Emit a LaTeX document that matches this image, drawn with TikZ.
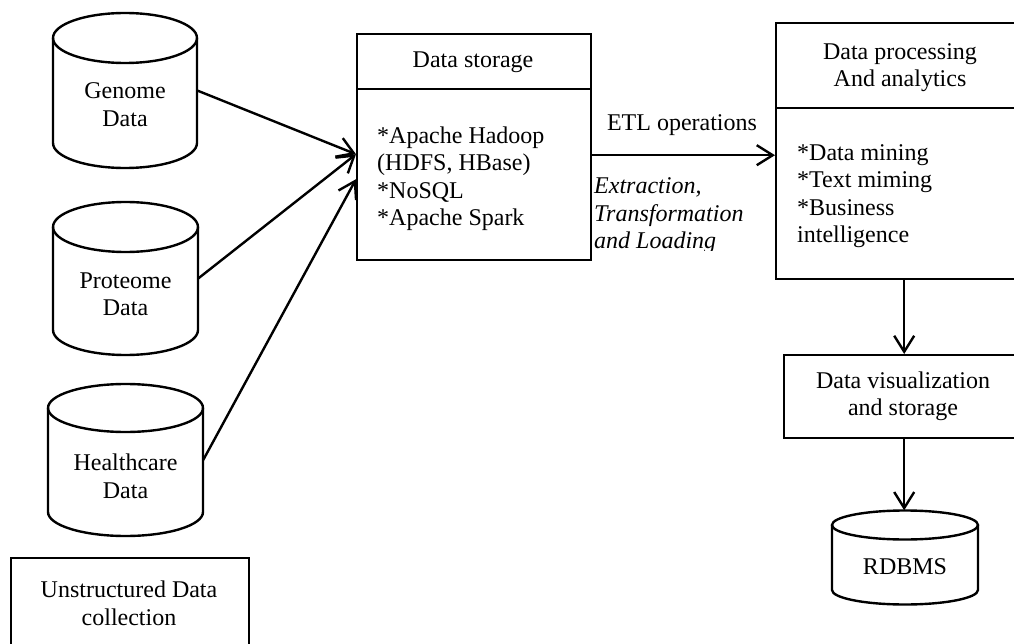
\documentclass[tikz,border=0pt]{standalone}
\usepackage{fontspec}
\setmainfont{Liberation Serif}
\usetikzlibrary{arrows.meta,calc}
\begin{document}
\begin{tikzpicture}[x=1pt,y=-1pt,
  ln/.style={line width=2.4pt, draw=black},
  arr/.style={ln, -{Straight Barb[length=16pt,width=20pt]}},
  txt/.style={font=\fontsize{24}{27.5}\selectfont, inner sep=0pt, align=center},
  boxst/.style={ln, rectangle, inner sep=0pt, anchor=north west},
  cylnode/.style={draw=none, rectangle, inner sep=0pt}
]
\useasboundingbox (0,0) rectangle (1014,644);

% ---- cylinders (left) ----
\node[cylnode, minimum width=144, minimum height=155] (genome) at (125,90.5) {};
\draw[ln] (125,38) ellipse [x radius=72, y radius=25];
\draw[ln] (53,38) -- (53,143) arc[start angle=180, end angle=0, x radius=72, y radius=25] -- (197,38);
\node[txt] (genomelbl) at (125,104.5) {Genome\\Data};

\node[cylnode, minimum width=145, minimum height=153] (proteome) at (125.5,278.5) {};
\draw[ln] (125.5,227) ellipse [x radius=72.5, y radius=25];
\draw[ln] (53,227) -- (53,330) arc[start angle=180, end angle=0, x radius=72.5, y radius=25] -- (198,227);
\node[txt] (proteomelbl) at (125.5,294.5) {Proteome\\Data};

\node[cylnode, minimum width=155, minimum height=152] (health) at (125.5,460) {};
\draw[ln] (125.5,408) ellipse [x radius=77.5, y radius=24];
\draw[ln] (48,408) -- (48,512) arc[start angle=180, end angle=0, x radius=77.5, y radius=24] -- (203,408);
\node[txt] (healthlbl) at (125.5,476.5) {Healthcare\\Data};

% ---- unstructured box ----
\node[boxst, minimum width=238, minimum height=95] (unstr) at (10,557) {};
\node[txt] (unstrlbl) at (129,603.5) {Unstructured Data\\collection};

% ---- data storage ----
\node[boxst, minimum width=234, minimum height=226] (storage) at (356,33) {};
\draw[ln] (storage.west |- 0,89) -- (storage.east |- 0,89);
\node[txt] (stitle) at (473,62) {Data storage};
\node[txt, align=left, anchor=west] (sbody) at (377,178.5) {*Apache Hadoop\\(HDFS, HBase)\\*NoSQL\\*Apache Spark};

% ---- data processing ----
\node[boxst, minimum width=250, minimum height=256] (proc) at (775,22) {};
\draw[ln] (proc.west |- 0,108) -- (proc.east |- 0,108);
\node[txt] (ptitle) at (900,67.5) {Data processing\\And analytics};
\node[txt, align=left, anchor=west] (pbody) at (797,196) {*Data mining\\*Text miming\\*Business\\intelligence};

% ---- data visualization ----
\node[boxst, minimum width=240, minimum height=83] (vis) at (783,354) {};
\node[txt] (vislbl) at (903,396.5) {Data visualization\\and storage};

% ---- RDBMS ----
\node[cylnode, minimum width=146, minimum height=94] (rdbms) at (905,557.5) {};
\draw[ln] (905,525) ellipse [x radius=73, y radius=14.5];
\draw[ln] (832,525) -- (832,590) arc[start angle=180, end angle=0, x radius=73, y radius=14.5] -- (978,525);
\node[txt] (rdbmslbl) at (905,567) {RDBMS};

% ---- ETL labels ----
\node[txt] (etl) at (682,125) {ETL operations};
\begin{scope}
\clip (590,150) rectangle (775,251);
\node[txt, align=left, anchor=west, font=\fontsize{24}{27.5}\selectfont\itshape] (etlsub) at (594,216) {Extraction,\\Transformation\\and Loading};
\end{scope}

% ---- connectors ----
\draw[arr] (genome.east) -- ($(storage.west)+(0,7)$);
\draw[arr] (proteome.east) -- ($(storage.west)+(0,7)$);
\draw[arr] (health.east) -- ($(storage.west)+(0,32)$);
\draw[arr] ($(storage.east)+(0,8)$) -- ($(proc.west)+(0,4)$);
\draw[arr] (vis.north |- proc.south) -- (vis.north);
\draw[arr] (vis.south) -- (vis.south |- rdbms.north);
\end{tikzpicture}
\end{document}
